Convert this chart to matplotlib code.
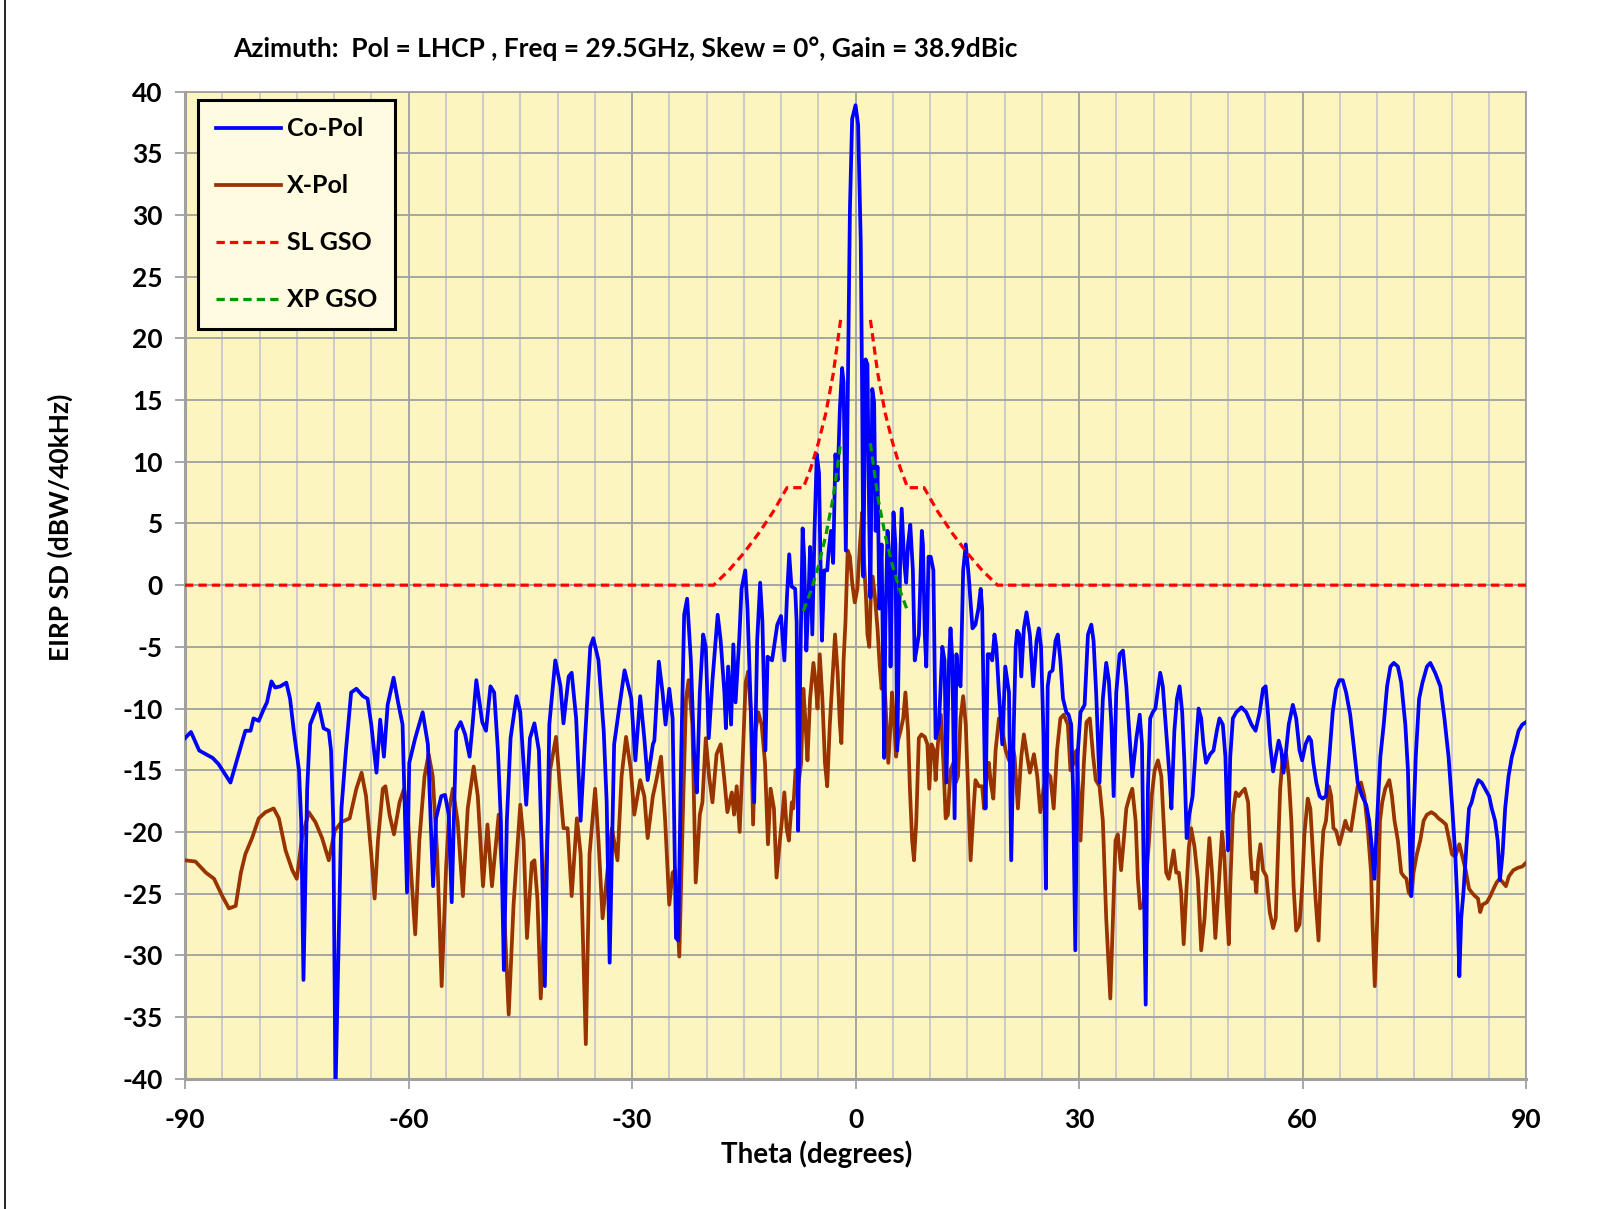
import matplotlib
matplotlib.use("Agg")
import matplotlib.pyplot as plt
from matplotlib.lines import Line2D

# co-pol pattern, (theta deg, EIRP SD dBW/40kHz)
copol = [
    (-90, -12.4), (-89.2, -11.9), (-88.1, -13.4), (-87.2, -13.7), (-86.3, -14.0), (-85.5, -14.5),
    (-83.9, -16.0), (-82.8, -13.7), (-81.9, -11.8), (-81.2, -11.8), (-80.8, -10.8), (-80.1, -11.0),
    (-79.4, -10.0), (-79.0, -9.5), (-78.4, -7.8), (-77.9, -8.3), (-77.2, -8.2), (-76.4, -7.9),
    (-75.9, -9.2), (-75.4, -11.8), (-74.7, -15.0), (-74.4, -19.2), (-74.1, -32.0), (-73.6, -16.5),
    (-73.2, -11.3), (-72.1, -9.6), (-71.4, -11.6), (-70.7, -11.8), (-70.4, -13.4), (-70.1, -19.1),
    (-69.8, -41.0), (-69.0, -18.1), (-68.4, -13.4), (-67.7, -8.7), (-67.0, -8.4), (-66.1, -9.0),
    (-65.5, -9.2), (-65.0, -11.3), (-64.3, -15.2), (-63.8, -10.9), (-63.3, -13.9), (-62.8, -9.7),
    (-62.0, -7.5), (-61.4, -9.5), (-60.8, -11.3), (-60.2, -24.9), (-59.9, -14.4), (-59.1, -12.4),
    (-58.1, -10.3), (-57.4, -12.9), (-56.7, -24.4), (-56.3, -18.9), (-55.6, -17.1), (-55.1, -17.0),
    (-54.6, -18.6), (-54.2, -25.7), (-53.6, -11.8), (-53.0, -11.1), (-52.4, -12.1), (-51.8, -13.9),
    (-51.4, -11.3), (-50.9, -7.7), (-50.1, -11.1), (-49.6, -11.8), (-49.0, -8.2), (-48.5, -8.7),
    (-48.0, -13.4), (-47.6, -19.1), (-47.2, -31.2), (-46.8, -19.1), (-46.3, -12.4), (-45.5, -9.0),
    (-45.0, -10.3), (-44.2, -17.8), (-43.7, -12.4), (-43.1, -11.2), (-42.5, -13.4), (-42.1, -21.8),
    (-41.7, -32.5), (-41.1, -11.3), (-40.3, -6.1), (-39.6, -8.2), (-39.2, -11.2), (-38.5, -7.4),
    (-38.1, -7.1), (-37.5, -10.8), (-36.9, -19.1), (-36.3, -12.4), (-35.6, -5.0), (-35.2, -4.3),
    (-34.5, -6.1), (-33.8, -11.8), (-33.4, -17.6), (-33.0, -30.6), (-32.4, -12.9), (-31.8, -10.3),
    (-31.0, -6.9), (-30.1, -9.2), (-29.55, -14.2), (-28.9, -9.0), (-28.35, -12.4), (-27.9, -15.8),
    (-27.2, -12.9), (-27.0, -12.6), (-26.4, -6.2), (-25.9, -8.7), (-25.5, -11.3), (-25.0, -8.4),
    (-24.55, -10.8), (-24.1, -28.6), (-23.8, -28.8), (-23.4, -13.9), (-23.0, -2.4), (-22.6, -1.1),
    (-22.1, -6.1), (-21.65, -13.9), (-21.3, -16.8), (-20.9, -8.7), (-20.45, -4.0), (-20.1, -5.0),
    (-19.7, -12.4), (-19.2, -7.7), (-18.5, -2.4), (-18.1, -4.5), (-17.6, -8.7), (-17.4, -11.6),
    (-17.1, -6.6), (-16.7, -11.3), (-16.4, -4.8), (-16.1, -9.5), (-15.6, -4.3), (-15.3, -0.3),
    (-14.8, 1.2), (-14.5, -1.9), (-14.1, -9.2), (-13.6, -17.6), (-13.2, -4.5), (-12.8, 0.2),
    (-12.5, -2.9), (-12.1, -13.4), (-11.8, -5.8), (-11.2, -6.1), (-10.5, -3.2), (-10.0, -2.5),
    (-9.55, -6.1), (-9.2, -0.9), (-8.9, 2.5), (-8.6, -0.1), (-8.1, -0.3), (-7.9, -3.0),
    (-7.7, -19.9), (-7.4, -6.1), (-7.1, 4.6), (-6.9, 2.3), (-6.6, -5.3), (-6.3, -0.9),
    (-6.1, 3.1), (-5.8, -4.0), (-5.5, 4.4), (-5.2, 10.6), (-4.9, 9.1), (-4.7, 1.8),
    (-4.5, -4.5), (-4.2, 1.2), (-3.8, 1.2), (-3.6, 2.8), (-3.3, 4.4), (-3.0, 1.8),
    (-2.7, 10.6), (-2.4, 8.5), (-2.1, 14.3), (-1.8, 17.6), (-1.6, 16.4), (-1.3, 2.8),
    (-1.05, 14.8), (-0.75, 30.5), (-0.45, 37.8), (0.0, 38.9), (0.35, 37.3), (0.7, 27.9),
    (0.9, 14.8), (1.05, 0.7), (1.35, 18.3), (1.6, 17.9), (1.8, 7.0), (2.0, -1.0),
    (2.25, 15.9), (2.5, 14.8), (2.7, 4.4), (2.95, 9.6), (3.2, -1.9), (3.5, 3.3),
    (3.85, -14.0), (4.0, -3.5), (4.3, 4.4), (4.55, 1.8), (4.7, -6.6), (4.9, 1.2),
    (5.1, 5.9), (5.35, 3.3), (5.6, -13.4), (6.0, 2.3), (6.2, 6.2), (6.55, 1.8),
    (6.8, 0.2), (7.05, 3.3), (7.35, 4.9), (7.7, 1.2), (7.95, -6.1), (8.25, -5.0),
    (8.5, -4.0), (8.9, 4.4), (9.05, 3.3), (9.3, -4.0), (9.5, -6.6), (9.8, 2.3),
    (10.1, 2.3), (10.45, 1.2), (10.75, -12.4), (11.2, -11.3), (11.65, -5.0), (11.95, -6.1),
    (12.2, -16.0), (12.55, -6.1), (12.75, -3.5), (13.0, -6.1), (13.3, -18.9), (13.55, -5.6),
    (13.8, -7.7), (14.1, -8.2), (14.45, 1.2), (14.8, 3.3), (15.2, 0.7), (15.7, -3.5),
    (16.1, -3.2), (16.5, -1.9), (16.8, -0.3), (17.0, -1.9), (17.25, -11.3), (17.45, -18.1),
    (17.75, -5.6), (18.05, -5.6), (18.35, -6.1), (18.65, -4.0), (18.9, -5.0), (19.25, -8.7),
    (19.7, -12.9), (20.1, -6.6), (20.6, -8.7), (20.9, -22.3), (21.25, -11.3), (21.5, -5.0),
    (21.7, -3.7), (22.0, -4.0), (22.25, -7.4), (22.6, -3.5), (22.95, -2.2), (23.4, -4.0),
    (23.85, -8.2), (24.3, -4.5), (24.6, -3.5), (24.9, -5.0), (25.25, -12.4), (25.55, -24.6),
    (25.8, -8.2), (26.05, -7.1), (26.45, -6.9), (26.85, -4.5), (27.15, -4.0), (27.5, -6.1),
    (27.85, -9.2), (28.3, -10.3), (28.6, -10.5), (28.95, -11.3), (29.2, -16.5), (29.5, -29.6),
    (29.8, -13.9), (30.2, -10.3), (30.75, -9.7), (31.2, -4.0), (31.65, -3.2), (31.95, -4.5),
    (32.3, -8.7), (32.75, -16.0), (33.2, -9.2), (33.65, -6.3), (34.0, -7.7), (34.35, -11.3),
    (34.65, -17.1), (35.0, -8.7), (35.45, -5.6), (35.9, -5.3), (36.35, -8.2), (36.8, -12.4),
    (37.15, -15.5), (37.7, -12.4), (38.15, -10.5), (38.45, -12.9), (38.65, -21.8), (38.95, -34.0),
    (39.25, -16.5), (39.55, -10.8), (39.9, -10.3), (40.25, -10.0), (40.6, -8.4), (40.9, -7.1),
    (41.25, -8.2), (41.7, -11.8), (42.15, -15.5), (42.4, -18.1), (42.8, -11.8), (43.15, -9.2),
    (43.5, -8.2), (43.85, -10.3), (44.15, -14.4), (44.45, -20.5), (44.8, -18.6), (45.25, -17.1),
    (45.65, -13.4), (46.05, -10.0), (46.4, -10.8), (46.7, -12.9), (47.05, -14.4), (47.6, -13.7),
    (48.05, -13.4), (48.5, -11.8), (48.85, -10.8), (49.3, -11.3), (49.65, -13.9), (50.0, -21.5),
    (50.3, -13.9), (50.65, -10.8), (51.1, -10.3), (51.8, -9.9), (52.45, -10.3), (53.15, -11.3),
    (53.7, -11.8), (54.25, -10.3), (54.7, -8.4), (55.05, -8.2), (55.35, -10.3), (55.65, -12.9),
    (56.05, -15.1), (56.4, -13.9), (56.8, -12.6), (57.15, -13.4), (57.45, -15.2), (57.8, -13.4),
    (58.15, -11.3), (58.7, -9.7), (59.15, -10.8), (59.6, -13.4), (59.95, -14.2), (60.4, -12.9),
    (60.85, -12.3), (61.15, -12.6), (61.45, -14.4), (61.85, -16.0), (62.3, -17.1), (62.7, -17.3),
    (63.15, -17.1), (63.6, -13.9), (64.05, -10.3), (64.5, -8.4), (64.95, -7.7), (65.4, -7.7),
    (65.85, -8.7), (66.4, -10.5), (66.85, -12.9), (67.4, -16.0), (68.0, -17.1), (68.55, -17.8),
    (68.95, -19.1), (69.3, -21.2), (69.65, -23.8), (70.0, -19.1), (70.45, -13.9), (70.9, -11.3),
    (71.35, -8.2), (71.8, -6.6), (72.25, -6.3), (72.8, -6.6), (73.25, -7.9), (73.8, -11.3),
    (74.15, -15.0), (74.4, -20.7), (74.6, -25.2), (74.9, -19.1), (75.2, -13.9), (75.65, -9.2),
    (76.1, -7.9), (76.7, -6.6), (77.15, -6.3), (77.8, -7.1), (78.5, -8.2), (79.05, -10.8),
    (79.6, -13.9), (80.05, -17.6), (80.5, -21.8), (80.8, -25.9), (81.05, -31.7), (81.3, -27.0),
    (81.6, -24.9), (82.05, -20.7), (82.35, -18.1), (82.7, -17.6), (83.15, -16.5), (83.6, -15.8),
    (84.05, -16.0), (84.5, -16.5), (85.05, -17.1), (85.4, -18.1), (85.85, -19.1), (86.2, -20.7),
    (86.5, -23.9), (86.85, -21.8), (87.2, -18.1), (87.65, -15.5), (88.1, -13.9), (88.55, -12.9),
    (89.0, -11.8), (89.5, -11.3), (90.0, -11.1),
]

# cross-pol pattern
xpol = [
    (-90, -22.3), (-88.6, -22.4), (-87.2, -23.3), (-86.1, -23.8), (-85.0, -25.2), (-84.1, -26.2),
    (-83.2, -26.0), (-82.5, -23.3), (-81.9, -21.8), (-81.0, -20.5), (-80.1, -18.9), (-79.2, -18.4),
    (-78.1, -18.1), (-77.4, -18.9), (-76.5, -21.5), (-75.6, -23.1), (-75.0, -23.8), (-74.3, -20.5),
    (-73.4, -18.4), (-72.5, -19.2), (-71.6, -20.5), (-70.7, -22.3), (-69.9, -19.9), (-69.0, -19.2),
    (-67.9, -18.9), (-67.0, -16.5), (-66.3, -15.2), (-65.7, -17.1), (-65.0, -21.8), (-64.55, -25.4),
    (-64.1, -20.7), (-63.45, -16.5), (-63.1, -16.3), (-62.55, -18.6), (-61.95, -20.2), (-61.2, -17.6),
    (-60.6, -16.5), (-60.1, -18.6), (-59.65, -23.3), (-59.1, -28.3), (-58.55, -20.7), (-57.85, -15.5),
    (-57.3, -13.7), (-56.75, -15.5), (-56.15, -21.8), (-55.55, -32.5), (-54.95, -22.8), (-54.5, -18.1),
    (-54.05, -16.5), (-53.4, -19.2), (-52.7, -25.2), (-52.05, -18.1), (-51.25, -14.7), (-50.7, -17.1),
    (-50.0, -24.4), (-49.4, -19.4), (-48.8, -24.4), (-47.9, -18.6), (-47.2, -25.9), (-46.55, -34.8),
    (-45.9, -25.9), (-45.0, -17.8), (-44.55, -20.7), (-44.1, -28.6), (-43.45, -22.5), (-43.1, -22.3),
    (-42.7, -25.4), (-42.25, -33.5), (-41.65, -24.4), (-41.0, -15.0), (-40.2, -12.3), (-39.65, -16.5),
    (-39.2, -19.7), (-38.65, -19.7), (-38.1, -25.2), (-37.4, -18.9), (-36.9, -21.8), (-36.2, -37.2),
    (-35.7, -21.8), (-34.95, -16.5), (-34.5, -20.7), (-33.95, -27.0), (-33.4, -23.8), (-32.7, -19.7),
    (-31.95, -22.3), (-31.4, -15.5), (-30.8, -12.3), (-30.15, -15.0), (-29.7, -18.6), (-28.9, -15.8),
    (-28.35, -17.1), (-27.9, -20.5), (-27.2, -17.1), (-26.8, -16.0), (-26.1, -13.9), (-25.55, -19.1),
    (-25.0, -25.9), (-24.55, -23.3), (-24.2, -23.1), (-23.65, -30.1), (-23.2, -19.1), (-22.75, -9.2),
    (-22.4, -7.7), (-21.9, -11.3), (-21.45, -24.1), (-20.9, -18.6), (-20.55, -17.6), (-20.1, -12.4),
    (-19.65, -15.5), (-19.2, -17.6), (-18.65, -13.7), (-18.1, -12.9), (-17.65, -15.5), (-17.2, -18.4),
    (-16.6, -16.8), (-16.3, -18.6), (-15.95, -16.3), (-15.55, -20.0), (-15.1, -13.4), (-14.75, -7.9),
    (-14.4, -7.0), (-14.05, -10.3), (-13.75, -19.4), (-13.4, -11.8), (-13.05, -10.3), (-12.6, -11.3),
    (-12.15, -14.4), (-11.75, -21.0), (-11.4, -16.5), (-10.95, -18.1), (-10.6, -23.7), (-10.2, -21.0),
    (-9.9, -19.2), (-9.55, -16.8), (-9.25, -19.7), (-8.95, -20.7), (-8.55, -17.6), (-8.35, -18.1),
    (-8.05, -15.0), (-7.75, -16.5), (-7.3, -14.4), (-7.0, -8.4), (-6.7, -11.3), (-6.45, -14.2),
    (-6.1, -9.2), (-5.65, -6.3), (-5.35, -7.9), (-5.1, -10.0), (-4.8, -5.6), (-4.45, -9.2),
    (-4.1, -14.4), (-3.8, -16.3), (-3.45, -11.3), (-3.15, -8.2), (-2.75, -4.0), (-2.4, -7.1),
    (-2.1, -11.3), (-1.9, -12.8), (-1.6, -6.1), (-1.35, -3.0), (-1.05, 2.8), (-0.75, 2.3),
    (-0.45, 0.2), (-0.1, -1.4), (0.25, -0.3), (0.6, 3.3), (0.9, 5.9), (1.15, 1.8),
    (1.4, -0.9), (1.6, -4.0), (1.85, -5.0), (2.05, -0.9), (2.3, 0.7), (2.6, -0.9),
    (2.95, -3.5), (3.25, -6.6), (3.5, -8.4), (3.75, -7.1), (4.0, -9.2), (4.4, -14.4),
    (4.7, -11.3), (4.9, -8.7), (5.2, -11.3), (5.45, -13.9), (5.7, -12.6), (6.05, -11.8),
    (6.4, -10.8), (6.7, -8.7), (7.05, -11.8), (7.3, -16.5), (7.6, -20.7), (7.85, -22.3),
    (8.15, -19.2), (8.5, -12.4), (8.85, -12.1), (9.3, -12.3), (9.65, -12.9), (9.9, -16.5),
    (10.2, -12.9), (10.55, -13.4), (10.75, -15.8), (11.05, -12.9), (11.45, -10.5), (11.8, -14.4),
    (12.1, -18.9), (12.4, -18.6), (12.75, -15.0), (13.15, -14.4), (13.45, -16.0), (13.75, -15.5),
    (14.1, -10.8), (14.45, -9.0), (14.8, -11.3), (15.1, -16.5), (15.45, -22.3), (15.8, -18.6),
    (16.1, -15.8), (16.55, -16.3), (17.0, -16.3), (17.25, -18.1), (17.6, -15.5), (17.9, -14.4),
    (18.15, -16.0), (18.5, -17.3), (18.8, -13.4), (19.25, -10.8), (19.7, -11.8), (20.15, -13.4),
    (20.6, -14.2), (21.05, -12.9), (21.35, -13.9), (21.8, -18.1), (22.25, -13.9), (22.6, -12.1),
    (23.05, -13.9), (23.4, -15.2), (23.95, -13.7), (24.4, -15.5), (24.8, -18.4), (25.25, -16.5),
    (25.7, -15.2), (26.15, -15.5), (26.6, -18.1), (27.05, -13.4), (27.5, -10.8), (27.95, -10.5),
    (28.5, -11.3), (28.85, -15.0), (29.3, -14.4), (29.65, -13.4), (29.95, -16.5), (30.2, -20.7),
    (30.65, -14.4), (31.0, -11.1), (31.45, -10.8), (31.9, -13.9), (32.25, -15.8), (32.75, -16.3),
    (33.2, -19.1), (33.65, -27.0), (34.2, -33.5), (34.55, -27.0), (34.9, -20.7), (35.2, -20.2),
    (35.65, -23.1), (36.0, -20.7), (36.35, -18.1), (36.8, -17.1), (37.15, -16.5), (37.6, -19.1),
    (37.9, -23.8), (38.2, -26.2), (38.65, -25.9), (39.0, -23.8), (39.4, -20.7), (39.75, -17.1),
    (40.15, -15.0), (40.6, -14.2), (41.05, -15.5), (41.35, -19.1), (41.7, -23.3), (42.05, -23.8),
    (42.35, -22.8), (42.7, -21.5), (43.05, -23.3), (43.4, -23.3), (43.7, -24.9), (44.05, -29.1),
    (44.4, -24.9), (44.75, -21.2), (45.05, -19.7), (45.5, -21.2), (45.95, -23.8), (46.4, -29.6),
    (46.85, -27.0), (47.15, -23.8), (47.5, -20.5), (47.85, -23.3), (48.3, -28.6), (48.75, -24.4),
    (49.2, -20.0), (49.5, -21.8), (49.8, -25.9), (50.1, -29.1), (50.3, -24.4), (50.65, -18.6),
    (51.05, -16.8), (51.45, -17.1), (51.8, -16.8), (52.25, -16.5), (52.7, -17.6), (53.0, -21.8),
    (53.25, -23.8), (53.55, -23.3), (53.8, -24.9), (54.05, -22.3), (54.35, -21.0), (54.7, -23.1),
    (55.15, -23.6), (55.6, -26.5), (56.05, -27.8), (56.4, -27.0), (56.7, -21.8), (57.0, -16.5),
    (57.35, -13.9), (57.8, -13.7), (58.15, -15.5), (58.5, -19.1), (58.8, -24.4), (59.15, -28.0),
    (59.6, -27.5), (59.95, -24.4), (60.25, -20.2), (60.7, -17.3), (61.05, -18.1), (61.4, -21.8),
    (61.75, -25.4), (62.15, -28.8), (62.5, -22.8), (62.8, -19.9), (63.15, -19.1), (63.55, -16.3),
    (63.85, -17.1), (64.15, -19.7), (64.5, -19.9), (64.95, -21.0), (65.3, -20.2), (65.75, -19.1),
    (66.05, -19.7), (66.5, -19.9), (66.95, -18.1), (67.4, -16.3), (67.85, -16.0), (68.3, -17.1),
    (68.75, -19.7), (69.2, -23.3), (69.4, -27.5), (69.7, -32.5), (70.1, -25.9), (70.4, -19.1),
    (70.7, -17.6), (71.1, -16.5), (71.65, -15.8), (72.0, -17.1), (72.35, -19.1), (72.8, -20.7),
    (73.25, -23.3), (73.6, -23.6), (73.95, -23.8), (74.25, -24.9), (74.6, -25.2), (74.9, -23.3),
    (75.35, -21.8), (75.8, -20.7), (76.25, -19.1), (76.7, -18.6), (77.3, -18.4), (77.8, -18.6),
    (78.25, -18.9), (78.7, -19.1), (79.25, -19.4), (79.7, -20.7), (80.05, -21.8), (80.5, -22.0),
    (81.05, -21.0), (81.45, -22.0), (81.9, -23.1), (82.35, -24.6), (82.7, -24.9), (83.15, -25.2),
    (83.55, -25.4), (83.85, -26.5), (84.15, -25.9), (84.75, -25.7), (85.2, -25.2), (85.65, -24.6),
    (86.05, -24.1), (86.45, -23.8), (86.9, -24.1), (87.3, -24.4), (87.7, -23.6), (88.3, -23.1),
    (88.95, -22.9), (89.5, -22.8), (90.0, -22.5),
]

# off-axis EIRP density masks
theta_sl_left = [-90, -19.05, -17, -15, -13, -11, -9.2, -7, -6, -5, -4, -3, -2]
sl_left = [0, 0, 1.2, 2.6, 4.2, 6.0, 7.9, 7.9, 9.5, 11.5, 13.9, 17.1, 21.5]
theta_sl_right = [2, 3, 4, 5, 6, 7, 9.2, 11, 13, 15, 17, 19.05, 90]
sl_right = [21.5, 17.1, 13.9, 11.5, 9.5, 7.9, 7.9, 6.0, 4.2, 2.6, 1.2, 0, 0]

theta_xp_left = [-7, -6, -5, -4, -3, -2]
xp_left = [-2.1, -0.5, 1.5, 4.0, 7.1, 11.5]
theta_xp_right = [2, 3, 4, 5, 6, 7]
xp_right = [11.5, 7.1, 4.0, 1.5, -0.5, -2.1]

title = "Azimuth:  Pol = LHCP , Freq = 29.5GHz, Skew = 0°, Gain = 38.9dBic"

plt.rcParams['font.family'] = ['Lato', 'DejaVu Sans']
plt.rcParams['font.weight'] = 'bold'
plt.rcParams['axes.unicode_minus'] = False

fig = plt.figure(figsize=(16.06, 12.09), dpi=100)
ax = fig.add_axes([0.1152, 0.1078, 0.8350, 0.8164])
ax.set_facecolor('#FCF5C0')

th_co, v_co = zip(*copol)
th_x, v_x = zip(*xpol)

dash = (0, (2.6, 1.6))
ax.plot(th_co, v_co, color='#0000FF', lw=2.7, solid_joinstyle='round', label='Co-Pol', zorder=4)
ax.plot(th_x, v_x, color='#993300', lw=2.7, solid_joinstyle='round', label='X-Pol', zorder=3)
ax.plot(theta_sl_left, sl_left, color='#FF0000', lw=2.3, ls=dash, label='SL GSO', zorder=5)
ax.plot(theta_sl_right, sl_right, color='#FF0000', lw=2.3, ls=dash, zorder=5)
ax.plot(theta_xp_left, xp_left, color='#009900', lw=2.3, ls=dash, label='XP GSO', zorder=5)
ax.plot(theta_xp_right, xp_right, color='#009900', lw=2.3, ls=dash, zorder=5)

ax.set_xlim(-90, 90)
ax.set_ylim(-40, 40)
ax.set_xticks(range(-90, 91, 30))
ax.set_xticks(range(-90, 91, 5), minor=True)
ax.set_yticks(range(-40, 41, 5))

ax.grid(which='minor', axis='x', color='#C8C8C8', lw=1.3)
ax.grid(which='major', axis='x', color='#A0A0A0', lw=1.3)
ax.grid(which='major', axis='y', color='#A0A0A0', lw=1.3)
ax.set_axisbelow(True)

for side in ['top', 'right']:
    ax.spines[side].set_color('#A0A0A0')
    ax.spines[side].set_linewidth(1.3)
for side in ['left', 'bottom']:
    ax.spines[side].set_color('#A0A0A0')
    ax.spines[side].set_linewidth(2.2)

ax.tick_params(axis='both', which='major', direction='out', length=7, width=1.3,
               color='#A0A0A0', labelsize=19)
ax.tick_params(axis='x', which='major', pad=14)
ax.tick_params(axis='y', which='major', pad=9)
ax.tick_params(axis='x', which='minor', length=0)
for lab in ax.get_xticklabels() + ax.get_yticklabels():
    lab.set_fontweight('bold')

ax.set_xlabel('Theta (degrees)', fontsize=20, fontweight='bold')
ax.xaxis.set_label_coords(0.471, -0.063)
ax.set_ylabel('EIRP SD (dBW/40kHz)', fontsize=19, fontweight='bold')
ax.yaxis.set_label_coords(-0.0835, 0.559)

fig.text(0.1452, 0.960, title, fontsize=19, fontweight='bold', ha='left', va='center')

leg = ax.legend(loc='upper left', bbox_to_anchor=(0.0097, 0.9916), borderaxespad=0,
                fancybox=False, framealpha=1, facecolor='#FEFBE0', edgecolor='black',
                prop={'size': 18, 'weight': 'bold'}, handlelength=2.6, handletextpad=0.25,
                labelspacing=1.36, borderpad=0.7)
leg.get_frame().set_linewidth(2.2)

# left edge of the original chart frame
fig.add_artist(Line2D([5 / 1606, 5 / 1606], [0, 1], color='black', lw=1.2))

fig.savefig('out.png', dpi=100)
